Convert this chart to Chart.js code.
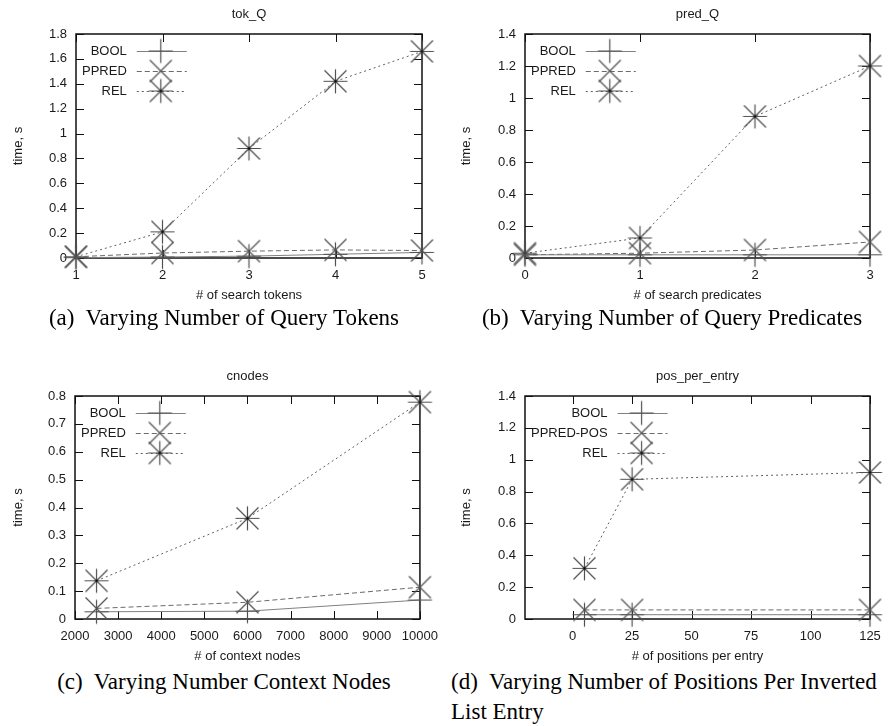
<!DOCTYPE html>
<html>
<head>
<meta charset="utf-8">
<script src="https://cdn.jsdelivr.net/npm/chart.js@4.4.1/dist/chart.umd.min.js"></script>
<style>
body { margin: 0; width: 896px; height: 726px; background: #fff; position: relative; overflow: hidden; }
canvas { position: absolute; }
.cap { position: absolute; font-family: "Liberation Serif", "Times New Roman", serif; font-size: 23px; line-height: 30px; color: #000; white-space: nowrap; }
</style>
</head>
<body>
<canvas id="tokChart" width="448" height="305" style="left:0;top:0"></canvas>
<canvas id="predChart" width="448" height="305" style="left:448px;top:0"></canvas>
<canvas id="cnodesChart" width="448" height="325" style="left:0;top:340px"></canvas>
<canvas id="posChart" width="448" height="325" style="left:448px;top:340px"></canvas>

<div class="cap" style="left:0;top:303px;width:448px;text-align:center">(a)&nbsp; Varying Number of Query Tokens</div>
<div class="cap" style="left:448px;top:303px;width:448px;text-align:center">(b)&nbsp; Varying Number of Query Predicates</div>
<div class="cap" style="left:0;top:667px;width:448px;text-align:center">(c)&nbsp; Varying Number Context Nodes</div>
<div class="cap" style="left:451px;top:667px;width:445px">(d)&nbsp; Varying Number of Positions Per Inverted<br>List Entry</div>

<script>
// series names
const seriesNames = ['BOOL', 'PPRED', 'REL'];
const posSeriesNames = ['BOOL', 'PPRED-POS', 'REL'];

// (a) tok_Q
const tokX = [1, 2, 3, 4, 5];
const tokBool = [0.003, 0.008, 0.015, 0.03, 0.045];
const tokPpred = [0.01, 0.04, 0.055, 0.065, 0.06];
const tokRel = [0.01, 0.21, 0.88, 1.42, 1.66];
const tokXTicks = [1, 2, 3, 4, 5];
const tokYTicks = [0, 0.2, 0.4, 0.6, 0.8, 1, 1.2, 1.4, 1.6, 1.8];

// (b) pred_Q
const predX = [0, 1, 2, 3];
const predBool = [0.02, 0.02, 0.02, 0.02];
const predPpred = [0.02, 0.03, 0.05, 0.1];
const predRel = [0.03, 0.125, 0.885, 1.2];
const predXTicks = [0, 1, 2, 3];
const predYTicks = [0, 0.2, 0.4, 0.6, 0.8, 1, 1.2, 1.4];

// (c) cnodes
const cnodesX = [2500, 6000, 10000];
const cnodesBool = [0.026, 0.028, 0.068];
const cnodesPpred = [0.038, 0.06, 0.114];
const cnodesRel = [0.137, 0.361, 0.778];
const cnodesXTicks = [2000, 3000, 4000, 5000, 6000, 7000, 8000, 9000, 10000];
const cnodesYTicks = [0, 0.1, 0.2, 0.3, 0.4, 0.5, 0.6, 0.7, 0.8];

// (d) pos_per_entry
const posX = [5, 25, 125];
const posBool = [0.027, 0.027, 0.027];
const posPpred = [0.057, 0.057, 0.057];
const posRel = [0.318, 0.877, 0.92];
const posXTicks = [0, 25, 50, 75, 100, 125];
const posYTicks = [0, 0.2, 0.4, 0.6, 0.8, 1, 1.2, 1.4];

const FONT = '"Liberation Sans", Arial, sans-serif';
const TEXT = '#1a1a1a';

// gnuplot style point markers
function makeMarker(kind) {
    const c = document.createElement('canvas');
    c.width = 27;
    c.height = 27;
    const g = c.getContext('2d');
    const m = 13.5;
    g.strokeStyle = '#505050';
    g.lineWidth = 1.2;
    g.beginPath();
    if (kind === 'plus' || kind === 'star') {
        g.moveTo(m - 12, m); g.lineTo(m + 12, m);
        g.moveTo(m, m - 12); g.lineTo(m, m + 12);
    }
    if (kind === 'x' || kind === 'star') {
        g.moveTo(m - 11, m - 11); g.lineTo(m + 11, m + 11);
        g.moveTo(m - 11, m + 11); g.lineTo(m + 11, m - 11);
    }
    g.stroke();
    if (kind === 'star') {
        g.fillStyle = '#000';
        g.fillRect(m - 1, m - 1, 2, 2);
    }
    return c;
}

const plusMarker = makeMarker('plus');
const xMarker = makeMarker('x');
const starMarker = makeMarker('star');

const lineStyles = [
    { color: '#808080', dash: [], marker: plusMarker },
    { color: '#6a6a6a', dash: [5, 3], marker: xMarker },
    { color: '#606060', dash: [2, 3], marker: starMarker }
];

// frame, inward ticks, titles and key in gnuplot manner
const gnuplotPlugin = {
    id: 'gnuplot',
    beforeDatasetsDraw(chart) {
        const { ctx, chartArea: a, scales } = chart;
        ctx.save();
        ctx.strokeStyle = '#111';
        ctx.lineWidth = 1;
        ctx.beginPath();
        scales.x.ticks.forEach(t => {
            const px = Math.round(scales.x.getPixelForValue(t.value)) + 0.5;
            ctx.moveTo(px, a.bottom); ctx.lineTo(px, a.bottom - 8);
            ctx.moveTo(px, a.top); ctx.lineTo(px, a.top + 8);
        });
        scales.y.ticks.forEach(t => {
            const py = Math.round(scales.y.getPixelForValue(t.value)) + 0.5;
            ctx.moveTo(a.left, py); ctx.lineTo(a.left + 8, py);
            ctx.moveTo(a.right, py); ctx.lineTo(a.right - 8, py);
        });
        ctx.stroke();
        ctx.lineWidth = 1.5;
        ctx.strokeRect(a.left, a.top, a.right - a.left, a.bottom - a.top);
        ctx.restore();
    },
    afterDatasetsDraw(chart, args, opts) {
        const { ctx, chartArea: a } = chart;
        ctx.save();
        ctx.fillStyle = TEXT;
        ctx.font = '13px ' + FONT;
        ctx.textBaseline = 'middle';

        // title
        ctx.textAlign = 'center';
        ctx.fillText(opts.title, (a.left + a.right) / 2, a.top - 20);
        // x label
        ctx.fillText(opts.xLabel, (a.left + a.right) / 2, a.bottom + 37);
        // y label
        ctx.save();
        ctx.translate(18, (a.top + a.bottom) / 2);
        ctx.rotate(-Math.PI / 2);
        ctx.fillText('time, s', 0, 0);
        ctx.restore();

        // key
        const names = chart.data.datasets.map(d => d.label);
        const textW = Math.max(...names.map(n => ctx.measureText(n).width));
        const textRight = a.left + 6 + textW;
        names.forEach((name, i) => {
            const y = a.top + 17 + i * 20;
            ctx.textAlign = 'right';
            ctx.fillStyle = TEXT;
            ctx.fillText(name, textRight, y);
            const st = lineStyles[i];
            ctx.strokeStyle = st.color;
            ctx.lineWidth = 1;
            ctx.setLineDash(st.dash);
            ctx.beginPath();
            ctx.moveTo(textRight + 10, y + 0.5);
            ctx.lineTo(textRight + 60, y + 0.5);
            ctx.stroke();
            ctx.setLineDash([]);
            ctx.drawImage(st.marker, textRight + 34 - 13.5, y - 13.5);
        });
        ctx.restore();
    }
};

function fmt(v) {
    return String(Math.round(v * 1000) / 1000);
}

function makeChart(id, o) {
    const ctx = document.getElementById(id).getContext('2d');
    const H = ctx.canvas.height;
    const series = [o.bool, o.ppred, o.rel];
    return new Chart(ctx, {
        type: 'line',
        data: {
            datasets: series.map((ys, i) => ({
                label: o.names[i],
                data: o.xs.map((x, j) => ({ x: x, y: ys[j] })),
                borderColor: lineStyles[i].color,
                borderWidth: 1,
                borderDash: lineStyles[i].dash,
                pointStyle: lineStyles[i].marker,
                pointRadius: 12,
                pointHoverRadius: 12,
                tension: 0,
                fill: false,
                clip: false
            }))
        },
        options: {
            responsive: false,
            animation: false,
            devicePixelRatio: 1,
            layout: { padding: { left: 0, top: o.top, right: 448 - o.right, bottom: 0 } },
            scales: {
                x: {
                    type: 'linear',
                    min: o.xMin,
                    max: o.xMax,
                    afterBuildTicks: s => { s.ticks = o.xTicks.map(v => ({ value: v })); },
                    afterFit: s => { s.height = H - o.bottom; },
                    grid: { display: false, drawTicks: false },
                    border: { display: false },
                    ticks: { padding: 10, color: TEXT, font: { family: FONT, size: 13 }, maxRotation: 0, autoSkip: false, callback: v => fmt(v) }
                },
                y: {
                    type: 'linear',
                    min: o.yMin,
                    max: o.yMax,
                    afterBuildTicks: s => { s.ticks = o.yTicks.map(v => ({ value: v })); },
                    afterFit: s => { s.width = o.left; },
                    grid: { display: false, drawTicks: false },
                    border: { display: false },
                    ticks: { padding: 9, color: TEXT, font: { family: FONT, size: 13 }, autoSkip: false, callback: v => fmt(v) }
                }
            },
            plugins: {
                legend: { display: false },
                tooltip: { enabled: false },
                gnuplot: { title: o.title, xLabel: o.xLabel }
            }
        },
        plugins: [gnuplotPlugin]
    });
}

makeChart('tokChart', {
    title: 'tok_Q', xLabel: '# of search tokens', names: seriesNames,
    xs: tokX, bool: tokBool, ppred: tokPpred, rel: tokRel,
    xTicks: tokXTicks, yTicks: tokYTicks,
    xMin: 1, xMax: 5, yMin: 0, yMax: 1.8,
    left: 76, right: 422, top: 34, bottom: 258
});

makeChart('predChart', {
    title: 'pred_Q', xLabel: '# of search predicates', names: seriesNames,
    xs: predX, bool: predBool, ppred: predPpred, rel: predRel,
    xTicks: predXTicks, yTicks: predYTicks,
    xMin: 0, xMax: 3, yMin: 0, yMax: 1.4,
    left: 77, right: 422, top: 34, bottom: 258
});

makeChart('cnodesChart', {
    title: 'cnodes', xLabel: '# of context nodes', names: seriesNames,
    xs: cnodesX, bool: cnodesBool, ppred: cnodesPpred, rel: cnodesRel,
    xTicks: cnodesXTicks, yTicks: cnodesYTicks,
    xMin: 2000, xMax: 10000, yMin: 0, yMax: 0.8,
    left: 75, right: 421, top: 56, bottom: 279
});

makeChart('posChart', {
    title: 'pos_per_entry', xLabel: '# of positions per entry', names: posSeriesNames,
    xs: posX, bool: posBool, ppred: posPpred, rel: posRel,
    xTicks: posXTicks, yTicks: posYTicks,
    xMin: -20, xMax: 125, yMin: 0, yMax: 1.4,
    left: 77, right: 422, top: 56, bottom: 279
});
</script>
</body>
</html>
